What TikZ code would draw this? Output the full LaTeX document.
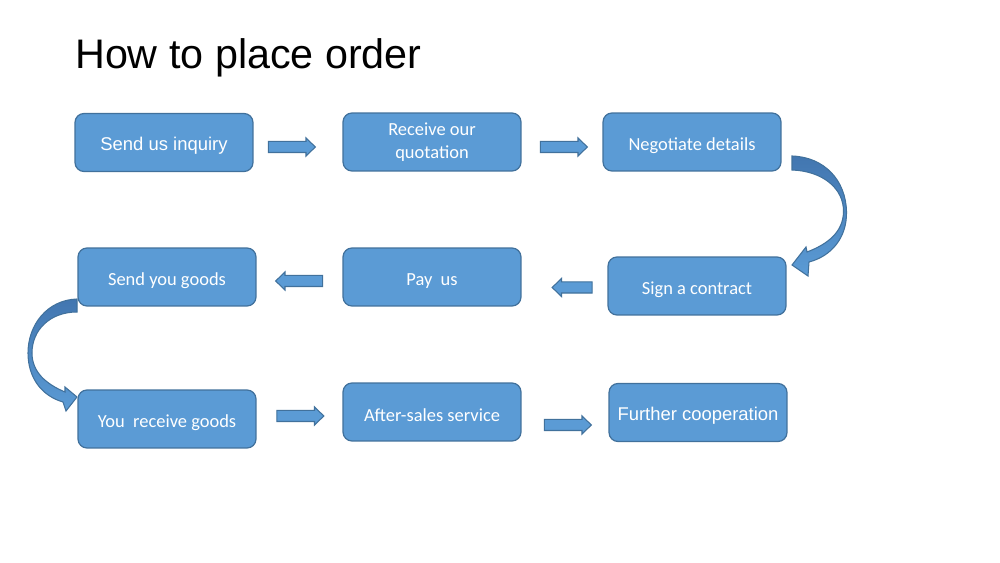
\documentclass[tikz,border=0pt]{standalone}
\usepackage{fontspec}
\setmainfont{Carlito}
\newfontfamily\arialfont{Liberation Sans}
\usepackage{xcolor}
\definecolor{boxblue}{RGB}{91, 155, 213}
\definecolor{boxedge}{RGB}{65, 113, 156}
\definecolor{bentdark}{RGB}{66, 118, 176}
\usepackage{tikz}
\usetikzlibrary{calc, shapes.arrows}

\begin{document}
\begin{tikzpicture}[x=0.02cm, y=-0.02cm,
    stepbox/.style={draw=boxedge, line width=0.7pt, fill=boxblue, rounded corners=0.18cm,
        minimum width=3.56cm, minimum height=1.16cm, inner sep=0pt, align=center,
        text=white, font=\fontsize{10.5}{13}\selectfont,
        execute at begin node={\rule{0pt}{11pt}}},
    flowarrow/.style={single arrow, draw=boxedge, line width=0.6pt, fill=boxblue,
        minimum height=0.94cm, inner xsep=0pt, inner ysep=0.1cm, single arrow head extend=0.07cm,
        single arrow tip angle=88},
    bentarrow/.style={draw=boxedge, line width=0.6pt, top color=bentdark, bottom color=boxblue}]

    \fill[white] (0,0) rectangle (1000,563);
    \useasboundingbox (0,0) rectangle (1000,563);

    % Title
    \node[anchor=base west, font=\arialfont\fontsize{23.5}{28}\selectfont] (title) at (69,69)
        {How to place order};

    % First row
    \node[stepbox] (inquiry) at (164,142.5) {\arialfont Send us inquiry};
    \node[stepbox] (quotation) at (432,142) {Receive our\\quotation};
    \node[stepbox] (negotiate) at (692,142) {Negotiate details};

    % Second row
    \node[stepbox] (contract) at (697,286) {Sign a contract};
    \node[stepbox] (pay) at (432,277) {Pay\ \ us};
    \node[stepbox] (sendgoods) at (167,277) {Send you goods};

    % Third row
    \node[stepbox] (receive) at (167,419) {You\ \ receive goods};
    \node[stepbox] (aftersales) at (432,412) {After-sales service};
    \node[stepbox] (further) at (698,412.5) {\arialfont Further cooperation};

    % Straight arrows between the boxes
    \path (inquiry.east) -- node[flowarrow, xshift=-0.18cm, yshift=-0.095cm] (arrowA) {} (quotation.west);
    \path (quotation.east) -- node[flowarrow, xshift=-0.02cm, yshift=-0.1cm] (arrowB) {} (negotiate.west);
    \path (contract.west) -- node[flowarrow, shape border rotate=180, minimum height=0.8cm,
        xshift=0.21cm, yshift=-0.12cm] (arrowC) {} (pay.east);
    \path (pay.west) -- node[flowarrow, shape border rotate=180, xshift=0.05cm, yshift=-0.08cm] (arrowD) {} (sendgoods.east);
    \path (receive.east) -- node[flowarrow, xshift=-0.04cm, yshift=-0.01cm] (arrowE) {} (aftersales.west);
    \path (aftersales.east) -- node[flowarrow, xshift=0cm, yshift=-0.255cm] (arrowF) {} (further.west);

    % Bent arrow on the right
    \path[bentarrow] (792,156) .. controls (824,157) and (846,180) .. (846.5,212)
        .. controls (847,237) and (832,256) .. (809,262) -- (808,276) -- (792,265) -- (806,247)
        -- (807,252) .. controls (828,244) and (843,232) .. (843.5,212)
        .. controls (844,188) and (822,171) .. (792,170) -- cycle;

    % Bent arrow on the left
    \path[bentarrow] (77,299) .. controls (47,300) and (28,325) .. (28,353)
        .. controls (28,378) and (42,396) .. (63,402) -- (66,411) -- (77,397) -- (65,387)
        -- (65,392) .. controls (46,384) and (32,372) .. (32,353)
        .. controls (32,330) and (50,312) .. (77,312) -- cycle;

\end{tikzpicture}
\end{document}
